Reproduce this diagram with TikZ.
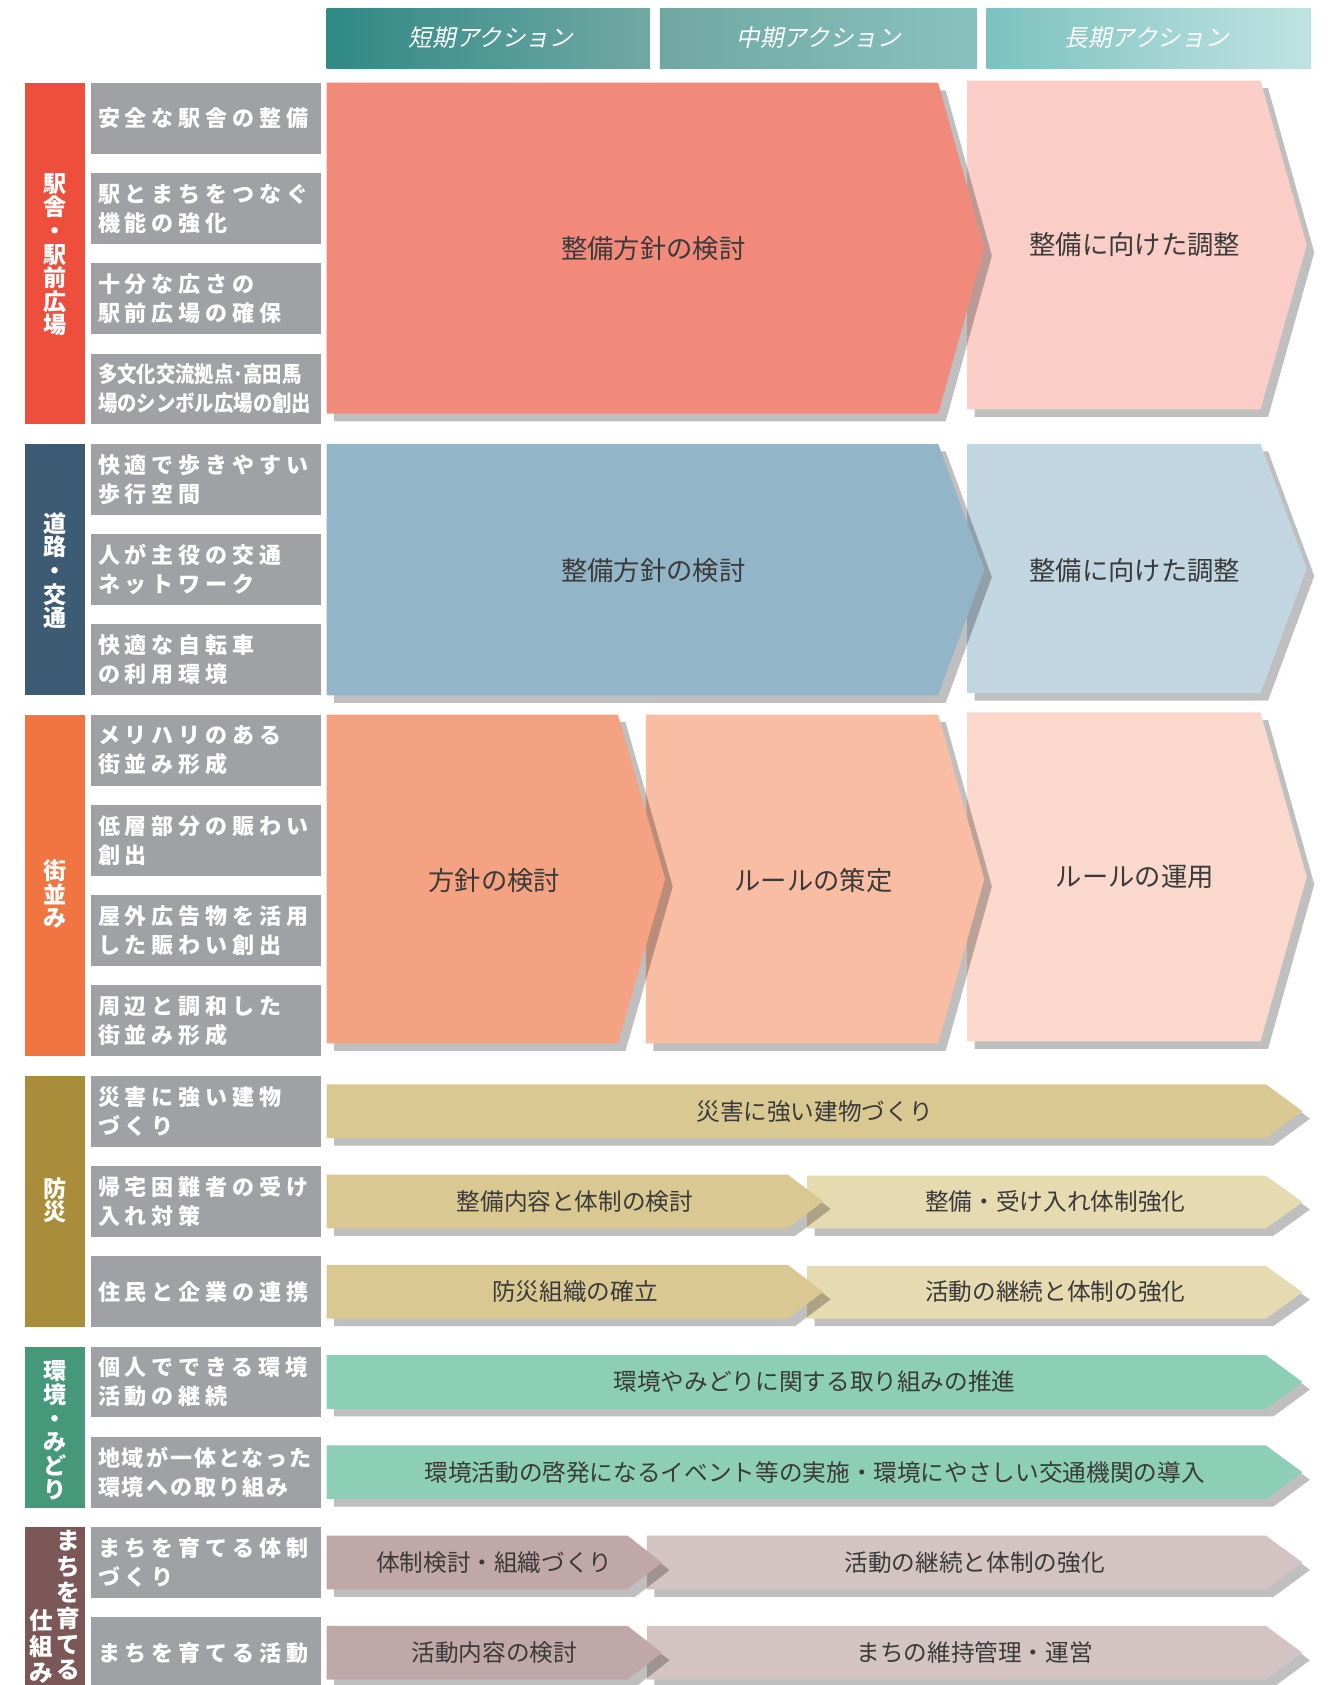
\documentclass[tikz,border=0pt]{standalone}
\usepackage{fontspec}
\newfontfamily\cjk{Noto Sans CJK JP}
\newfontfamily\cjkls[LetterSpace=22]{Noto Sans CJK JP}
\newfontfamily\cjkcond[FakeStretch=0.88]{Noto Sans CJK JP}
\newfontfamily\cjkit[FakeSlant=0.2]{Noto Sans CJK JP}
\usetikzlibrary{calc}
\definecolor{boxgrey}{HTML}{A0A1A4}
\definecolor{txt}{HTML}{3A3A3A}
\definecolor{cRed}{HTML}{EE4F3D}
\definecolor{aRed}{HTML}{F28A7C}
\definecolor{aPink}{HTML}{FACDC7}
\definecolor{cSlate}{HTML}{3D5B73}
\definecolor{aBlue}{HTML}{93B5C8}
\definecolor{aLBlue}{HTML}{C2D6E1}
\definecolor{cOrange}{HTML}{F17541}
\definecolor{aOr1}{HTML}{F4A281}
\definecolor{aOr2}{HTML}{F8BDA3}
\definecolor{aOr3}{HTML}{FAD9CC}
\definecolor{cGold}{HTML}{AA8D3B}
\definecolor{aGold}{HTML}{DAC892}
\definecolor{aLGold}{HTML}{E6DAB1}
\definecolor{cGreen}{HTML}{45987A}
\definecolor{aGreen}{HTML}{8CCEB6}
\definecolor{cBrown}{HTML}{7B5857}
\definecolor{aMauve}{HTML}{BFA8A7}
\definecolor{aLMauve}{HTML}{D3C4C3}
\definecolor{h1l}{HTML}{2F8985}
\definecolor{h1r}{HTML}{72A8A4}
\definecolor{h2l}{HTML}{70A7A2}
\definecolor{h2r}{HTML}{88C2BE}
\definecolor{h3l}{HTML}{7DC2BE}
\definecolor{h3m}{HTML}{7ACBC9}
\definecolor{h3r}{HTML}{BFE3E3}
\newcommand\chev[6]{% x0, y0, xbody, xtip, y1, colour
  \fill[black,fill opacity=0.25,shift={(7,7)}] (#1,#2) -- (#3,#2) -- (#4,{(#2+#5)/2}) -- (#3,#5) -- (#1,#5) -- cycle;
  \fill[#6] (#1,#2) -- (#3,#2) -- (#4,{(#2+#5)/2}) -- (#3,#5) -- (#1,#5) -- cycle;
}
\begin{document}
\begin{tikzpicture}[x=1pt,y=-1pt,
  hdr/.style={inner sep=0, text=white, font=\cjkit\fontsize{22}{22}\selectfont},
  gtxt/.style={anchor=west, align=left, inner sep=0, text=white, font=\cjkls\bfseries\fontsize{20.5}{27}\selectfont},
  ctxt/.style={align=center, inner sep=0, text=white, font=\cjk\bfseries\fontsize{21.5}{22}\selectfont},
  atxt/.style={inner sep=0, text=txt, font=\cjk\fontsize{24.5}{25}\selectfont},
  ttxt/.style={inner sep=0, text=txt, font=\cjk\fontsize{22}{22}\selectfont}]
\useasboundingbox (0,0) rectangle (1240,1568);
\clip (0,0) rectangle (1240,1568);

% header
\shade[left color=h1l,right color=h1r] (304,8) rectangle (605,64);
\shade[left color=h2l,right color=h2r] (614,8) rectangle (909,64);
\shade[left color=h3l,middle color=h3m,right color=h3r] (918,8) rectangle (1220,64);
\node[hdr] (h1) at (457,35) {短期アクション};
\node[hdr] (h2) at (762,35) {中期アクション};
\node[hdr] (h3) at (1067,35) {長期アクション};

% category bars
\fill[cRed] (23,77) rectangle (79,395);
\fill[cSlate] (23,413) rectangle (79,647);
\fill[cOrange] (23,665) rectangle (79,983);
\fill[cGold] (23,1001) rectangle (79,1235);
\fill[cGreen] (23,1253) rectangle (79,1403);
\fill[cBrown] (23,1421) rectangle (79,1575);

\node[ctxt] (c1) at (51,237) {駅\\舎\\・\\駅\\前\\広\\場};
\node[ctxt] (c2) at (51,531) {道\\路\\・\\交\\通};
\node[ctxt] (c3) at (51,832) {街\\並\\み};
\node[ctxt] (c4) at (51,1117) {防\\災};
\node[ctxt] (c5) at (51,1331) {環\\境\\・\\み\\ど\\り};
\node[ctxt,font=\cjk\bfseries\fontsize{22}{24}\selectfont] (c6a) at (64,1494) {ま\\ち\\を\\育\\て\\る};
\node[ctxt,font=\cjk\bfseries\fontsize{22}{24}\selectfont] (c6b) at (38,1532) {仕\\組\\み};

% grey item boxes
\foreach \i in {0,...,17} \fill[boxgrey] (85,{77+84*\i}) rectangle (299,{143+84*\i});
\node[gtxt] (g0) at (91,110) {安全な駅舎の整備};
\node[gtxt] (g1) at (91,194) {駅とまちをつなぐ\\機能の強化};
\node[gtxt] (g2) at (91,278) {十分な広さの\\駅前広場の確保};
\node[gtxt,font=\cjkcond\bfseries\fontsize{20.5}{27}\selectfont] (g3) at (91,362) {多文化交流拠点･高田馬\\場のシンボル広場の創出};
\node[gtxt] (g4) at (91,446) {快適で歩きやすい\\歩行空間};
\node[gtxt] (g5) at (91,530) {人が主役の交通\\ネットワーク};
\node[gtxt] (g6) at (91,614) {快適な自転車\\の利用環境};
\node[gtxt] (g7) at (91,698) {メリハリのある\\街並み形成};
\node[gtxt] (g8) at (91,782) {低層部分の賑わい\\創出};
\node[gtxt] (g9) at (91,866) {屋外広告物を活用\\した賑わい創出};
\node[gtxt] (g10) at (91,950) {周辺と調和した\\街並み形成};
\node[gtxt] (g11) at (91,1034) {災害に強い建物\\づくり};
\node[gtxt] (g12) at (91,1118) {帰宅困難者の受け\\入れ対策};
\node[gtxt] (g13) at (91,1202) {住民と企業の連携};
\node[gtxt] (g14) at (91,1286) {個人でできる環境\\活動の継続};
\node[gtxt,font=\cjk\bfseries\addfontfeature{LetterSpace=9}\fontsize{20.5}{27}\selectfont] (g15) at (91,1370) {地域が一体となった\\環境への取り組み};
\node[gtxt] (g16) at (91,1454) {まちを育てる体制\\づくり};
\node[gtxt] (g17) at (91,1538) {まちを育てる活動};

% section 1
\chev{900}{75}{1173}{1216}{381}{aPink}
\chev{304}{77}{873}{916}{385}{aRed}
\node[atxt] (a1) at (608,231) {整備方針の検討};
\node[atxt] (a2) at (1056,228) {整備に向けた調整};

% section 2
\chev{900}{413}{1173}{1216}{645}{aLBlue}
\chev{304}{413}{873}{916}{647}{aBlue}
\node[atxt] (b1) at (608,531) {整備方針の検討};
\node[atxt] (b2) at (1056,531) {整備に向けた調整};

% section 3
\chev{900}{663}{1173}{1216}{969}{aOr3}
\chev{601}{665}{873}{916}{971}{aOr2}
\chev{304}{665}{575}{619}{971}{aOr1}
\node[atxt] (s1) at (460,819) {方針の検討};
\node[atxt] (s2) at (757,819) {ルールの策定};
\node[atxt] (s3) at (1056,816) {ルールの運用};

% row 11-13 (bousai)
\chev{304}{1009}{1178}{1212}{1059}{aGold}
\node[ttxt] (d1) at (758,1034) {災害に強い建物づくり};
\chev{751}{1094}{1178}{1212}{1143}{aLGold}
\chev{304}{1093}{733}{766}{1143}{aGold}
\node[ttxt] (d2) at (535,1118) {整備内容と体制の検討};
\node[ttxt] (d3) at (982,1118) {整備・受け入れ体制強化};
\chev{751}{1178}{1178}{1212}{1227}{aLGold}
\chev{304}{1177}{733}{766}{1227}{aGold}
\node[ttxt] (d4) at (535,1202) {防災組織の確立};
\node[ttxt] (d5) at (982,1202) {活動の継続と体制の強化};

% row 14-15 (kankyo)
\chev{304}{1261}{1178}{1212}{1311}{aGreen}
\node[ttxt] (e1) at (758,1286) {環境やみどりに関する取り組みの推進};
\chev{304}{1345}{1178}{1212}{1395}{aGreen}
\node[ttxt] (e2) at (758,1370) {環境活動の啓発になるイベント等の実施・環境にやさしい交通機関の導入};

% row 16-17 (machi)
\chev{602}{1429}{1178}{1212}{1479}{aLMauve}
\chev{304}{1429}{584}{616}{1479}{aMauve}
\node[ttxt] (m1) at (460,1454) {体制検討・組織づくり};
\node[ttxt] (m2) at (907,1454) {活動の継続と体制の強化};
\chev{602}{1513}{1178}{1212}{1563}{aLMauve}
\chev{304}{1513}{584}{616}{1563}{aMauve}
\node[ttxt] (m3) at (460,1538) {活動内容の検討};
\node[ttxt] (m4) at (907,1538) {まちの維持管理・運営};
\end{tikzpicture}
\end{document}
